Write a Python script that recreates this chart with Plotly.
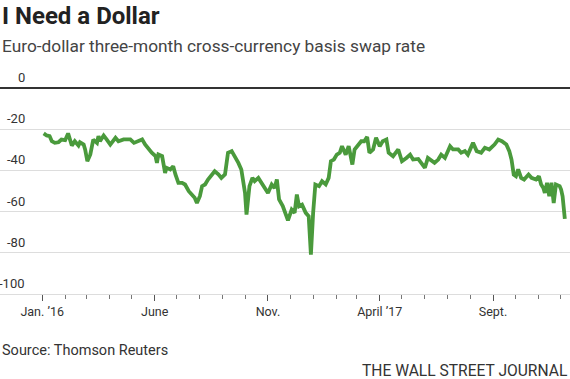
import plotly.graph_objects as go
import pandas as pd

dates = [
    "2016-01-03", "2016-01-07", "2016-01-11", "2016-01-14", "2016-01-18", "2016-01-23",
    "2016-01-27", "2016-02-01", "2016-02-05", "2016-02-07", "2016-02-10", "2016-02-14",
    "2016-02-19", "2016-02-21", "2016-02-26", "2016-02-28", "2016-03-02", "2016-03-06",
    "2016-03-10", "2016-03-15", "2016-03-17", "2016-03-19", "2016-03-24", "2016-03-28",
    "2016-04-02", "2016-04-09", "2016-04-13", "2016-04-20", "2016-04-29", "2016-05-04",
    "2016-05-08", "2016-05-15", "2016-05-19", "2016-05-24", "2016-05-28", "2016-06-02",
    "2016-06-04", "2016-06-06", "2016-06-11", "2016-06-15", "2016-06-17", "2016-06-22",
    "2016-06-26", "2016-06-29", "2016-07-03", "2016-07-08", "2016-07-12", "2016-07-17",
    "2016-07-21", "2016-07-25", "2016-07-28", "2016-08-01", "2016-08-04", "2016-08-08",
    "2016-08-12", "2016-08-17", "2016-08-21", "2016-08-26", "2016-08-30", "2016-09-04",
    "2016-09-08", "2016-09-13", "2016-09-17", "2016-09-22", "2016-09-26", "2016-10-01",
    "2016-10-03", "2016-10-07", "2016-10-11", "2016-10-14", "2016-10-19", "2016-10-23",
    "2016-10-28", "2016-11-01", "2016-11-06", "2016-11-10", "2016-11-13", "2016-11-16",
    "2016-11-21", "2016-11-25", "2016-11-28", "2016-12-03", "2016-12-07", "2016-12-10",
    "2016-12-13", "2016-12-17", "2016-12-22", "2016-12-26", "2016-12-29", "2017-01-01",
    "2017-01-04", "2017-01-09", "2017-01-13", "2017-01-18", "2017-01-22", "2017-01-25",
    "2017-01-29", "2017-02-02", "2017-02-06", "2017-02-09", "2017-02-14", "2017-02-18",
    "2017-02-23", "2017-02-26", "2017-03-03", "2017-03-07", "2017-03-11", "2017-03-15",
    "2017-03-18", "2017-03-23", "2017-03-27", "2017-04-01", "2017-04-05", "2017-04-10",
    "2017-04-13", "2017-04-19", "2017-04-26", "2017-05-01", "2017-05-07", "2017-05-12",
    "2017-05-16", "2017-05-23", "2017-05-27", "2017-06-01", "2017-06-05", "2017-06-10",
    "2017-06-14", "2017-06-19", "2017-06-23", "2017-06-28", "2017-07-05", "2017-07-09",
    "2017-07-16", "2017-07-20", "2017-07-25", "2017-07-29", "2017-08-05", "2017-08-10",
    "2017-08-16", "2017-08-21", "2017-08-27", "2017-09-03", "2017-09-08", "2017-09-13",
    "2017-09-19", "2017-09-23", "2017-09-26", "2017-09-29", "2017-10-02", "2017-10-05",
    "2017-10-09", "2017-10-13", "2017-10-19", "2017-10-23", "2017-10-29", "2017-11-02",
    "2017-11-05", "2017-11-08", "2017-11-10", "2017-11-13", "2017-11-16", "2017-11-19",
    "2017-11-22", "2017-11-25", "2017-11-30", "2017-12-02", "2017-12-04", "2017-12-07",
]

basis_swap = [
    -22.0, -23.0, -23.3, -25.8, -26.6, -26.3,
    -25.0, -25.3, -22.0, -24.9, -27.9, -25.8,
    -27.9, -26.3, -27.4, -29.8, -35.5, -32.2,
    -25.0, -26.6, -23.3, -25.8, -23.0, -24.9,
    -27.4, -24.1, -25.8, -24.9, -24.9, -26.6,
    -25.8, -24.9, -27.4, -29.8, -31.4, -33.0,
    -36.3, -32.2, -33.0, -41.2, -38.7, -39.5,
    -37.9, -41.9, -46.0, -46.0, -46.8, -50.1,
    -51.7, -53.3, -55.8, -52.5, -47.6, -46.8,
    -44.4, -41.9, -40.4, -41.9, -43.6, -41.9,
    -31.4, -30.6, -33.0, -36.3, -39.5, -50.9,
    -61.4, -47.6, -43.6, -45.2, -43.6, -46.0,
    -48.5, -50.9, -46.8, -48.5, -44.4, -54.1,
    -57.3, -60.6, -64.2, -59.0, -60.6, -51.7,
    -57.4, -56.6, -60.6, -62.2, -80.9, -60.6,
    -46.8, -47.6, -45.2, -46.8, -43.6, -35.5,
    -34.7, -32.3, -31.4, -28.2, -32.3, -28.2,
    -37.1, -29.8, -27.4, -25.8, -25.8, -23.7,
    -31.4, -29.8, -24.1, -28.2, -25.8, -25.0,
    -31.4, -33.1, -29.8, -35.5, -33.9, -32.3,
    -34.7, -34.4, -36.3, -38.7, -33.9, -35.5,
    -36.3, -34.7, -32.3, -33.9, -28.2, -29.8,
    -29.8, -31.4, -30.6, -32.3, -26.6, -30.6,
    -31.4, -29.0, -29.8, -27.4, -25.0, -25.8,
    -27.4, -30.6, -34.7, -42.0, -42.8, -39.5,
    -43.6, -44.4, -42.0, -43.6, -44.4, -42.8,
    -46.8, -48.5, -50.9, -46.0, -52.5, -46.0,
    -55.8, -46.8, -47.6, -49.3, -52.5, -63.5,
]

x_tick_vals = ["2016-01-01", "2016-06-01", "2016-11-01", "2017-04-01", "2017-09-01"]
x_tick_text = ["Jan. \u201916", "June", "Nov.", "April \u201917", "Sept."]
minor_tick_vals = [d.strftime("%Y-%m-%d") for d in pd.date_range("2016-01-01", "2017-12-01", freq="MS")]
y_tick_vals = [0, -20, -40, -60, -80, -100]
y_tick_text = ["0", "-20", "-40", "-60", "-80", "-100"]

FONT = "Roboto, sans-serif"
TEXT = "#333333"

fig = go.Figure()
fig.add_trace(go.Scatter(
    x=dates, y=basis_swap, mode="lines",
    line=dict(color="#4a9a3c", width=3.8),
    hoverinfo="skip", showlegend=False,
))

fig.update_layout(
    width=570, height=379,
    margin=dict(l=0, r=0, t=84, b=85),
    paper_bgcolor="white", plot_bgcolor="white",
    font=dict(family=FONT, color=TEXT, size=13),
    xaxis=dict(
        type="date",
        range=["2015-11-05", "2017-12-14"],
        tickmode="array", tickvals=x_tick_vals, ticktext=x_tick_text,
        ticks="outside", ticklen=6, tickwidth=1, tickcolor="#555555",
        showgrid=False, zeroline=False,
        showline=True, linecolor="#dddddd", linewidth=1,
        tickfont=dict(family=FONT, size=12.5, color=TEXT),
        minor=dict(tickmode="array", tickvals=minor_tick_vals, ticks="outside",
                   ticklen=4, tickwidth=1, tickcolor="#777777", showgrid=False),
        fixedrange=True,
    ),
    yaxis=dict(
        range=[-100, 2],
        tickmode="array", tickvals=y_tick_vals, showticklabels=False,
        showgrid=True, gridcolor="#dddddd", gridwidth=1,
        zeroline=True, zerolinecolor="#333333", zerolinewidth=1.5,
        showline=False, fixedrange=True,
    ),
)

for v, t in zip(y_tick_vals, y_tick_text):
    fig.add_annotation(
        x=0.048, xref="paper", y=v, yref="y", text=t, showarrow=False,
        xanchor="right", yanchor="bottom", yshift=1,
        font=dict(family=FONT, size=13, color=TEXT),
    )

fig.add_annotation(
    x=0, xref="paper", y=1, yref="paper", yshift=84, text="<b>I Need a Dollar</b>",
    showarrow=False, xanchor="left", yanchor="top",
    font=dict(family=FONT, size=24, color="#222222"),
)
fig.add_annotation(
    x=0, xref="paper", y=1, yref="paper", yshift=50,
    text="Euro-dollar three-month cross-currency basis swap rate",
    showarrow=False, xanchor="left", yanchor="top",
    font=dict(family=FONT, size=17.3, color="#444444"),
)
fig.add_annotation(
    x=0, xref="paper", y=0, yref="paper", yshift=-46,
    text="Source: Thomson Reuters", showarrow=False, xanchor="left", yanchor="top",
    font=dict(family=FONT, size=14.5, color=TEXT),
)
fig.add_annotation(
    x=1, xref="paper", y=0, yref="paper", yshift=-66,
    text="THE WALL STREET JOURNAL", showarrow=False, xanchor="right", yanchor="top",
    font=dict(family=FONT, size=15.6, color=TEXT),
)

fig.write_html("out.html", config={"displayModeBar": False},
               post_script="document.body.style.margin='0';")
